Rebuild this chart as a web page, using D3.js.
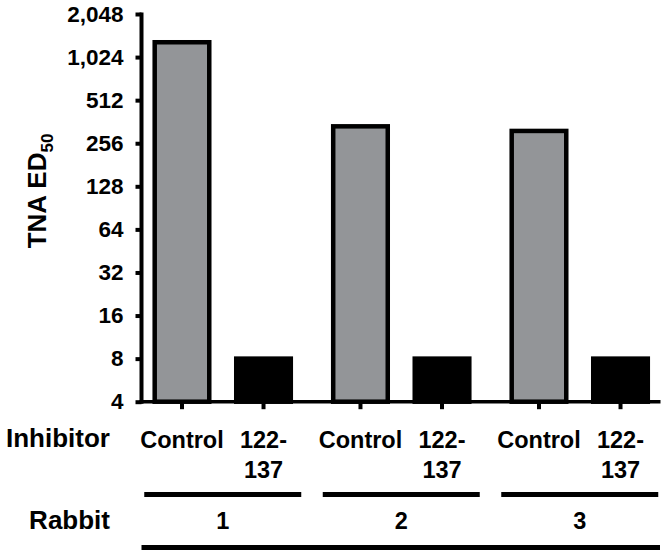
<!DOCTYPE html>
<html>
<head>
<meta charset="utf-8">
<script src="https://cdn.jsdelivr.net/npm/d3@7"></script>
<style>
  html, body { margin: 0; padding: 0; background: #fff; }
  svg { display: block; }
  text { font-family: "Liberation Sans", Arial, Helvetica, sans-serif; font-weight: bold; fill: #000; }
</style>
</head>
<body>
<svg id="chart" width="666" height="554"></svg>
<script>
// ---- data ----
const rabbits = ["1", "2", "3"];
const inhibitors = ["Control", "122-137"];
const inhibitorLabels = [["Control"], ["122-", "137"]];
const controlValues = [1300, 336, 312];
const inhibitorValues = [8, 8, 8];
const yTicks = [4, 8, 16, 32, 64, 128, 256, 512, 1024, 2048];

const rows = [];
rabbits.forEach((r, i) => {
  rows.push({ rabbit: r, inhibitor: inhibitors[0], value: controlValues[i] });
  rows.push({ rabbit: r, inhibitor: inhibitors[1], value: inhibitorValues[i] });
});

// ---- layout ----
const svg = d3.select("#chart");
const axisX = 141.5, axisRight = 660.5;
const yTop = 14, yBottom = 401.7;

const y = d3.scaleLog().base(2).domain([4, 2048]).range([yBottom, yTop]);
const xGroup = d3.scaleBand().domain(rabbits).range([133.5, 669]).padding(0);
const xInner = d3.scaleBand().domain(inhibitors).range([0, xGroup.bandwidth()])
  .paddingInner(0.331).paddingOuter(0.26);

const fills = { "Control": "#939598", "122-137": "#000000" };

// bars
svg.append("g").selectAll("rect").data(rows).join("rect")
  .attr("x", d => xGroup(d.rabbit) + xInner(d.inhibitor))
  .attr("width", xInner.bandwidth())
  .attr("y", d => y(d.value))
  .attr("height", d => y(4) - y(d.value))
  .attr("fill", d => fills[d.inhibitor])
  .attr("stroke", "#000")
  .attr("stroke-width", 4.5);

// y axis
const yAxis = d3.axisLeft(y).tickValues(yTicks).tickFormat(d3.format(","))
  .tickSize(6).tickSizeOuter(0).tickPadding(12);
const gy = svg.append("g").attr("transform", `translate(${axisX},0)`).call(yAxis);
gy.select(".domain").remove();
gy.append("line").attr("x1", 0).attr("x2", 0).attr("y1", yTop - 1.5).attr("y2", yBottom + 2)
  .attr("stroke", "#000").attr("stroke-width", 4);
gy.selectAll(".tick line").attr("stroke", "#000").attr("stroke-width", 4);
gy.selectAll(".tick text").style("font-size", "22.5px").attr("fill", "#000");

// x axis
const xPositions = rows.map(d => xGroup(d.rabbit) + xInner(d.inhibitor) + xInner.bandwidth() / 2);
svg.append("line").attr("x1", axisX - 2).attr("x2", axisRight).attr("y1", yBottom).attr("y2", yBottom)
  .attr("stroke", "#000").attr("stroke-width", 3.5);
svg.append("g").selectAll("line").data(xPositions).join("line")
  .attr("x1", d => d).attr("x2", d => d)
  .attr("y1", yBottom).attr("y2", yBottom + 7.5)
  .attr("stroke", "#000").attr("stroke-width", 4);

// inhibitor labels
const labG = svg.append("g");
rows.forEach((d, i) => {
  const lines = inhibitorLabels[inhibitors.indexOf(d.inhibitor)];
  lines.forEach((t, j) => {
    labG.append("text").attr("x", xPositions[i]).attr("y", 448.3 + j * 30)
      .attr("text-anchor", "middle").style("font-size", "23.5px").text(t);
  });
});

// row titles
svg.append("text").attr("x", 110).attr("y", 447.3).attr("text-anchor", "end")
  .style("font-size", "26px").text("Inhibitor");
svg.append("text").attr("x", 110).attr("y", 528.5).attr("text-anchor", "end")
  .style("font-size", "26px").text("Rabbit");

// group lines and rabbit numbers
const gc = r => xGroup(r) + xGroup.bandwidth() / 2;
svg.append("g").selectAll("line").data(rabbits).join("line")
  .attr("x1", d => gc(d) - 78.5).attr("x2", d => gc(d) + 78.5)
  .attr("y1", 494.5).attr("y2", 494.5)
  .attr("stroke", "#000").attr("stroke-width", 5);
svg.append("g").selectAll("text").data(rabbits).join("text")
  .attr("x", d => gc(d)).attr("y", 529.3).attr("text-anchor", "middle")
  .style("font-size", "23.5px").text(d => d);
svg.append("line").attr("x1", 141.5).attr("x2", 660).attr("y1", 547.5).attr("y2", 547.5)
  .attr("stroke", "#000").attr("stroke-width", 5);

// y title
const title = svg.append("text")
  .attr("transform", "translate(46,191) rotate(-90)")
  .attr("text-anchor", "middle")
  .style("font-size", "26px");
title.append("tspan").text("TNA ED");
title.append("tspan").attr("dy", 7).style("font-size", "17px").text("50");
</script>
</body>
</html>
